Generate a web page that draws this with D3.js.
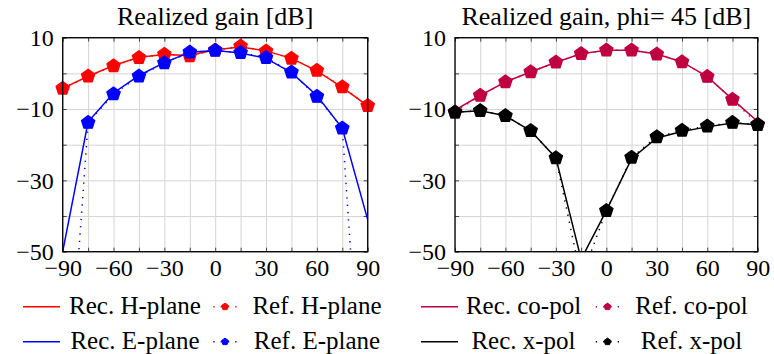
<!DOCTYPE html>
<html>
<head>
<meta charset="utf-8">
<script src="https://cdn.jsdelivr.net/npm/d3@7"></script>
<style>
  body { margin: 0; background: #fff; }
</style>
</head>
<body>
<svg id="chart" width="774" height="354"></svg>
<script>
// angles in degrees, gain in dB
const angles = [-90, -75, -60, -45, -30, -15, 0, 15, 30, 45, 60, 75, 90];
const xTicks = [-90, -60, -30, 0, 30, 60, 90];
const yTicks = [10, -10, -30, -50];
const yGrid = [10, 0, -10, -20, -30, -40, -50];

const hRec = [-4.2, -0.8, 2.2, 4.5, 5.3, 5.0, 6.6, 7.4, 6.3, 4.2, 0.7, -3.9, -9.1];
const hRef = [-4.2, -0.8, 2.1, 4.4, 5.3, 4.9, 6.5, 7.6, 6.2, 4.2, 0.8, -3.8, -9.1];
const eRec = [-50, -13.6, -5.5, -0.6, 3.0, 5.9, 6.4, 5.7, 4.2, 0.2, -6.2, -15.4, -41];
const eRef = [-112.6, -13.8, -5.8, -0.8, 2.9, 5.9, 6.4, 5.8, 4.4, 0.3, -6.5, -15.4, -121];

const coRec = [-10.3, -6.2, -2.4, 0.4, 3.1, 5.5, 6.45, 6.5, 5.4, 3.2, -0.9, -7.3, -13.5];
const coRef = [-10.9, -6.2, -2.4, 0.4, 3.1, 5.5, 6.5, 6.5, 5.4, 3.2, -0.9, -7.3, -14.3];
const xpRec = [-10.9, -10.5, -11.9, -16.1, -23.7, -52.1, -38.5, -23.9, -18.1, -16.3, -15.0, -13.9, -14.4];
const xpRef = [-10.9, -10.5, -11.9, -16.1, -23.7, -57.5, -38.5, -23.6, -17.8, -16.0, -14.8, -13.8, -14.4];

const RED = "#ff0000", BLUE = "#0000ff", PURPLE = "#bf0040", BLACK = "#000000";
const FONT = "'Liberation Serif', 'Times New Roman', Times, 'DejaVu Serif', serif";

const svg = d3.select("#chart");
const plotTop = 37.7, plotBottom = 251.7;

// pentagon marker, point up
function pentagon(cx, cy, r) {
  const pts = d3.range(5).map(i => {
    const a = -Math.PI / 2 + i * 2 * Math.PI / 5;
    return [cx + r * Math.cos(a), cy + r * Math.sin(a)];
  });
  return "M" + pts.join("L") + "Z";
}

function drawPanel(id, left, right, title, series, legend) {
  const x = d3.scaleLinear().domain([-90, 90]).range([left, right]);
  const y = d3.scaleLinear().domain([-50, 10]).range([plotBottom, plotTop]);
  const w = right - left, h = plotBottom - plotTop;
  const g = svg.append("g");

  svg.append("clipPath").attr("id", "clip-" + id)
    .append("rect").attr("x", left).attr("y", plotTop).attr("width", w).attr("height", h);

  // grid
  g.append("g").attr("transform", `translate(0,${plotBottom})`)
    .call(d3.axisBottom(x).tickValues(angles).tickSize(-h).tickFormat(""))
    .call(a => a.select(".domain").remove())
    .call(a => a.selectAll("line").attr("stroke", "#d4d4d4").attr("stroke-width", 1));
  g.append("g").attr("transform", `translate(${left},0)`)
    .call(d3.axisLeft(y).tickValues(yGrid).tickSize(-w).tickFormat(""))
    .call(a => a.select(".domain").remove())
    .call(a => a.selectAll("line").attr("stroke", "#d4d4d4").attr("stroke-width", 1));

  // small inward ticks on all sides
  const tickStyle = a => {
    a.select(".domain").remove();
    a.selectAll("line").attr("stroke", "#444").attr("stroke-width", 1);
  };
  g.append("g").attr("transform", `translate(0,${plotBottom})`)
    .call(d3.axisBottom(x).tickValues(angles).tickSize(-4).tickFormat("")).call(tickStyle);
  g.append("g").attr("transform", `translate(0,${plotTop})`)
    .call(d3.axisTop(x).tickValues(angles).tickSize(-4).tickFormat("")).call(tickStyle);
  g.append("g").attr("transform", `translate(${left},0)`)
    .call(d3.axisLeft(y).tickValues(yGrid).tickSize(-4).tickFormat("")).call(tickStyle);
  g.append("g").attr("transform", `translate(${right},0)`)
    .call(d3.axisRight(y).tickValues(yGrid).tickSize(-4).tickFormat("")).call(tickStyle);

  // tick labels
  const labelStyle = a => {
    a.select(".domain").remove();
    a.selectAll("line").remove();
    a.attr("font-family", FONT).attr("font-size", 24);
    a.selectAll("text").attr("fill", "#000");
  };
  g.append("g").attr("transform", `translate(0,${plotBottom})`)
    .call(d3.axisBottom(x).tickValues(xTicks).tickSize(0).tickPadding(7)).call(labelStyle);
  g.append("g").attr("transform", `translate(${left},0)`)
    .call(d3.axisLeft(y).tickValues(yTicks).tickSize(0).tickPadding(9)).call(labelStyle);

  // data
  const line = d3.line().x((d, i) => x(angles[i])).y(d => y(d));
  const plot = g.append("g");
  series.forEach(s => {
    plot.append("path")
      .attr("d", line(s.values))
      .attr("clip-path", `url(#clip-${id})`)
      .attr("fill", "none")
      .attr("stroke", s.color)
      .attr("stroke-width", 1.5)
      .attr("stroke-dasharray", s.dotted ? "1.3 6" : null);
    if (s.marks) {
      plot.selectAll(null)
        .data(s.values.map((v, i) => [angles[i], v]).filter(d => d[1] >= -50))
        .join("path")
        .attr("d", d => pentagon(x(d[0]), y(d[1]), 6.9))
        .attr("fill", s.color)
        .attr("stroke", s.color)
        .attr("stroke-width", 1.4)
        .attr("stroke-linejoin", "round");
    }
  });

  // frame
  g.append("rect").attr("x", left).attr("y", plotTop).attr("width", w).attr("height", h)
    .attr("fill", "none").attr("stroke", "#000").attr("stroke-width", 1.3);

  // title
  g.append("text").attr("x", (left + right) / 2).attr("y", 25)
    .attr("text-anchor", "middle").attr("font-family", FONT).attr("font-size", 26)
    .text(title);

  // legend
  const lg = g.append("g").attr("font-family", FONT).attr("font-size", 25);
  legend.rows.forEach((r, k) => {
    const ly = 306.7 + k * 35, by = 313.5 + k * 35;
    lg.append("line").attr("x1", legend.c[0] - 18.5).attr("x2", legend.c[0] + 18.5)
      .attr("y1", ly).attr("y2", ly).attr("stroke", r.color).attr("stroke-width", 1.5);
    lg.append("text").attr("x", legend.c[1]).attr("y", by).attr("text-anchor", "middle")
      .text(r.rec);
    lg.append("line").attr("x1", legend.c[2] - 17).attr("x2", legend.c[2] + 17)
      .attr("y1", ly).attr("y2", ly).attr("stroke", r.color).attr("stroke-width", 1.5)
      .attr("stroke-dasharray", "1.3 6").attr("stroke-dashoffset", 2);
    lg.append("path").attr("d", pentagon(legend.c[2], ly, 3.6)).attr("fill", r.color)
      .attr("stroke", r.color).attr("stroke-width", 1).attr("stroke-linejoin", "round");
    lg.append("text").attr("x", legend.c[3]).attr("y", by).attr("text-anchor", "middle")
      .text(r.ref);
  });
}

drawPanel("a", 62.7, 367.7, "Realized gain [dB]", [
  { values: hRec, color: RED },
  { values: hRef, color: RED, dotted: true, marks: true },
  { values: eRec, color: BLUE },
  { values: eRef, color: BLUE, dotted: true, marks: true }
], {
  c: [41.5, 135, 225, 317],
  rows: [
    { color: RED, rec: "Rec. H-plane", ref: "Ref. H-plane" },
    { color: BLUE, rec: "Rec. E-plane", ref: "Ref. E-plane" }
  ]
});

drawPanel("b", 455, 757.7, "Realized gain, phi= 45 [dB]", [
  { values: coRec, color: PURPLE },
  { values: coRef, color: PURPLE, dotted: true, marks: true },
  { values: xpRec, color: BLACK },
  { values: xpRef, color: BLACK, dotted: true, marks: true }
], {
  c: [439.5, 523.5, 607.5, 691.5],
  rows: [
    { color: PURPLE, rec: "Rec. co-pol", ref: "Ref. co-pol" },
    { color: BLACK, rec: "Rec. x-pol", ref: "Ref. x-pol" }
  ]
});
</script>
</body>
</html>
